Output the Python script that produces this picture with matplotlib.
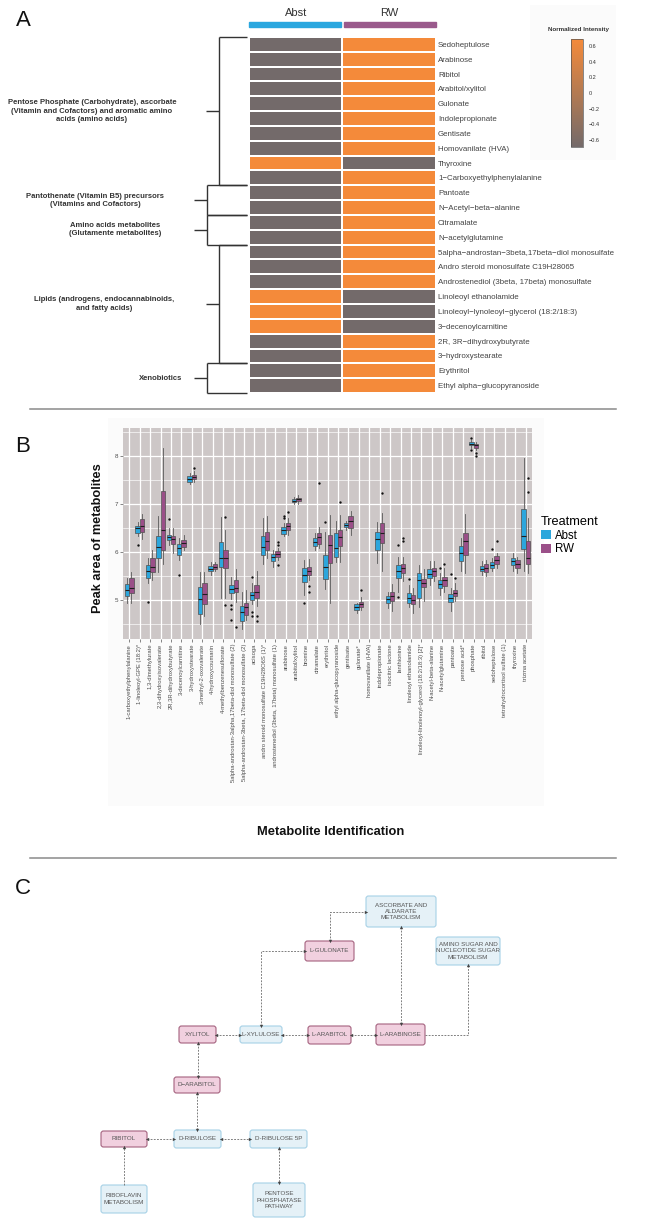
import numpy as np
import matplotlib.pyplot as plt
from matplotlib.patches import Rectangle, FancyBboxPatch, Patch
from matplotlib.colors import LinearSegmentedColormap

plt.rcParams['font.family'] = ['Liberation Sans', 'DejaVu Sans']

# ---------------- panel A data ----------------
metabolites = ["Sedoheptulose", "Arabinose", "Ribitol", "Arabitol/xylitol", "Gulonate",
               "Indolepropionate", "Gentisate", "Homovanilate (HVA)", "Thyroxine",
               "1\u2212Carboxyethylphenylalanine", "Pantoate", "N\u2212Acetyl\u2212beta\u2212alanine",
               "Citramalate", "N\u2212acetylglutamine",
               "5alpha\u2212androstan\u22123beta,17beta\u2212diol monosulfate",
               "Andro steroid monosulfate C19H28065",
               "Androstenediol (3beta, 17beta) monosulfate", "Linoleoyl ethanolamide",
               "Linoleoyl\u2212lynoleoyl\u2212glycerol (18:2/18:3)", "3\u2212decenoylcarnitine",
               "2R, 3R\u2212dihydroxybutyrate", "3\u2212hydroxystearate", "Erythritol",
               "Ethyl alpha\u2212glucopyranoside"]
abst_z = [-0.71, -0.71, -0.71, -0.71, -0.71, -0.71, -0.71, -0.71, 0.71, -0.71,
          -0.71, -0.71, -0.71, -0.71, -0.71, -0.71, -0.71, 0.71, 0.71, 0.71,
          -0.71, -0.71, -0.71, -0.71]
rw_z = [-v for v in abst_z]
group_names = ["Pentose Phosphate (Carbohydrate), ascorbate\n(Vitamin and Cofactors) and aromatic amino\nacids (amino acids)",
               "Pantothenate (Vitamin B5) precursors\n(Vitamins and Cofactors)",
               "Amino acids metabolites\n(Glutamente metabolites)",
               "Lipids (androgens, endocannabinoids,\nand fatty acids)",
               "Xenobiotics"]
group_start = [0, 10, 12, 14, 22]
group_end = [10, 12, 14, 22, 24]
group_level = [1, 2, 2, 1, 2]
cbar_ticks = [0.6, 0.4, 0.2, 0, -0.2, -0.4, -0.6]
cbar_labels = ["0.6", "0.4", "0.2", "0", "\u22120.2", "\u22120.4", "\u22120.6"]

# ---------------- panel B data ----------------
bp_labels = ["1-carboxyethylphenylalanine", "1-linoleoyl-GPE (18:2)*", "1,3-dimethylurate",
             "2,3-dihydroxyisovalerate", "2R,3R-dihydroxybutyrate", "3-decenoylcarnitine",
             "3-hydroxystearate", "3-methyl-2-oxovalerate", "4-hydroxycoumarin",
             "4-methylbenzenesulfonate", "5alpha-androstan-3alpha,17beta-diol monosulfate (2)",
             "5alpha-androstan-3beta, 17beta-diol monosulfate (2)", "acisoga",
             "andro steroid monosulfate C19H28O6S (1)*",
             "androstenediol (3beta, 17beta) monosulfate (1)", "arabinose", "arabitol/xylitol",
             "bromine", "citramalate", "erythritol", "ethyl alpha-glucopyranoside", "gentisate",
             "gulonate*", "homovanillate (HVA)", "indolepropionate", "isocitric lactone",
             "lanthionine", "linoleoyl ethanolamide",
             "linoleoyl-linolenoyl-glycerol (18:2/18:3) [2]*", "N-acetyl-beta-alanine",
             "N-acetylglutamine", "pantoate", "pentose acid*", "phosphate", "ribitol",
             "sedoheptulose", "tetrahydrocortisol sulfate (1)", "thyroxine", "trizma acetate"]

abst_lo = [4.94, 6.32, 5.35, 5.57, 6.15, 5.83, 7.42, 4.50, 5.52, 5.03, 5.02, 4.38, 4.90,
           5.75, 5.69, 6.32, 6.99, 5.10, 6.04, 5.22, 5.79, 6.46, 4.73, None, 5.76, 4.83,
           5.17, 4.84, 4.84, 5.31, 5.10, 4.77, 5.59, 8.16, 5.52, 5.59, None, 5.59, 5.59]
abst_q1 = [5.08, 6.40, 5.45, 5.87, 6.24, 5.94, 7.46, 4.71, 5.59, 5.69, 5.14, 4.55, 5.00,
           5.94, 5.80, 6.38, 7.03, 5.36, 6.11, 5.43, 5.90, 6.51, 4.79, None, 6.04, 4.93,
           5.45, 4.93, 5.04, 5.45, 5.24, 4.95, 5.80, 8.22, 5.59, 5.66, None, 5.72, 6.06]
abst_med = [5.21, 6.49, 5.59, 6.10, 6.30, 6.08, 7.51, 5.02, 5.65, 5.87, 5.22, 4.74, 5.10,
            6.10, 5.89, 6.45, 7.06, 5.51, 6.21, 5.69, 6.08, 6.56, 4.85, None, 6.27, 5.02,
            5.60, 5.03, 5.40, 5.54, 5.33, 5.03, 5.97, 8.25, 5.65, 5.73, None, 5.80, 6.33]
abst_q3 = [5.33, 6.54, 5.73, 6.32, 6.34, 6.17, 7.58, 5.26, 5.71, 6.21, 5.31, 4.86, 5.17,
           6.33, 5.95, 6.51, 7.10, 5.66, 6.28, 5.94, 6.39, 6.60, 4.90, None, 6.42, 5.07,
           5.73, 5.14, 5.56, 5.63, 5.42, 5.12, 6.11, 8.28, 5.70, 5.78, None, 5.87, 6.90]
abst_hi = [5.46, 6.63, 5.87, 6.74, 6.49, 6.28, 7.64, 5.57, 5.79, 6.72, 5.48, 5.15, 5.35,
           6.70, 6.04, 6.60, 7.14, 5.83, 6.39, 6.42, 6.64, 6.65, 4.94, None, 6.63, 5.17,
           5.90, 5.31, 5.73, 5.80, 5.56, 5.24, 6.28, 8.33, 5.81, 5.87, None, 5.97, 7.95]
abst_out = [[], [6.15], [4.96], [], [6.69], [5.52], [], [], [], [], [4.88, 4.80, 4.58], [],
            [5.47, 4.74, 4.66], [], [], [6.74, 6.70], [], [4.94], [], [6.61], [], [], [],
            None, [], [], [6.15, 5.05], [5.44], [], [], [5.67], [5.53], [], [8.38, 8.12],
            [], [6.06], None, [], []]

rw_lo = [4.94, 6.26, 5.42, 5.75, 5.97, 6.04, 7.46, 4.65, 5.59, 5.04, 4.96, 4.58, 4.86,
         5.87, 5.83, 6.35, 6.99, 5.42, 6.08, 4.94, 5.79, 6.35, 4.79, None, 5.59, 4.76,
         5.38, 4.72, 4.97, 5.38, 5.17, 4.97, 5.56, 8.13, 5.49, 5.66, None, 5.56, 5.56]
rw_q1 = [5.13, 6.42, 5.58, 6.03, 6.17, 6.10, 7.51, 4.92, 5.63, 5.66, 5.15, 4.69, 5.03,
         6.04, 5.90, 6.46, 7.05, 5.52, 6.17, 5.76, 6.11, 6.49, 4.85, None, 6.18, 4.97,
         5.56, 4.90, 5.26, 5.49, 5.28, 5.07, 5.94, 8.17, 5.58, 5.74, None, 5.66, 5.74]
rw_med = [5.25, 6.53, 5.69, 6.46, 6.27, 6.19, 7.56, 5.12, 5.68, 5.86, 5.24, 4.84, 5.17,
          6.23, 5.95, 6.53, 7.09, 5.60, 6.30, 6.15, 6.30, 6.65, 4.92, None, 6.39, 5.07,
          5.66, 5.00, 5.35, 5.59, 5.40, 5.14, 6.22, 8.22, 5.67, 5.83, None, 5.75, 5.87]
rw_q3 = [5.46, 6.68, 5.87, 7.26, 6.32, 6.25, 7.60, 5.35, 5.74, 6.04, 5.40, 4.93, 5.31,
         6.42, 6.01, 6.60, 7.13, 5.69, 6.39, 6.35, 6.46, 6.74, 4.96, None, 6.60, 5.17,
         5.74, 5.09, 5.44, 5.67, 5.47, 5.21, 6.39, 8.25, 5.74, 5.92, None, 5.83, 6.23]
rw_hi = [5.58, 6.78, 6.04, 8.16, 6.49, 6.35, 7.68, 5.58, 5.79, 6.46, 5.65, 5.21, 5.59,
         6.74, 6.07, 6.70, 7.19, 5.85, 6.51, 6.77, 6.77, 6.85, 5.05, None, 6.81, 5.33,
         5.90, 5.24, 5.63, 5.80, 5.66, 5.35, 6.78, 8.29, 5.83, 5.97, None, 5.90, 6.70]
rw_out = [[], [], [], [], [], [], [7.74], [], [], [6.73, 4.88], [4.44], [], [4.66, 4.56],
          [], [6.21, 6.13, 5.73], [6.82], [], [5.28, 5.17], [7.43], [], [7.03], [], [5.20],
          None, [7.22], [], [6.29, 6.22], [], [], [], [5.74], [5.45], [], [8.06, 8.00], [],
          [6.22], None, [], [7.53, 7.24]]

# ---------------- panel C data ----------------
c_nodes = ["ASCORBATE AND\nALDARATE\nMETABOLISM", "L-GULONATE",
           "AMINO SUGAR AND\nNUCLEOTIDE SUGAR\nMETABOLISM", "XYLITOL", "L-XYLULOSE",
           "L-ARABITOL", "L-ARABINOSE", "D\u2212ARABITOL", "RIBITOL", "D-RIBULOSE",
           "D-RIBULOSE 5P", "RIBOFLAVIN\nMETABOLISM", "PENTOSE\nPHOSPHATASE\nPATHWAY"]
c_kind = ["path", "met", "path", "met", "path", "met", "met", "met", "met", "path", "path",
          "path", "path"]
# (from, to, route, (head at start, head at end))
c_edges = [(1, 0, "vh", (1, 1)), (4, 1, "vh", (1, 1)), (0, 6, "v", (1, 1)),
           (6, 2, "hv", (0, 1)), (3, 4, "h", (1, 1)), (4, 5, "h", (1, 1)), (5, 6, "h", (1, 1)),
           (3, 7, "v", (1, 1)), (7, 9, "v", (1, 1)), (8, 9, "h", (1, 1)), (9, 10, "h", (1, 1)),
           (11, 8, "v", (0, 1)), (10, 12, "v", (1, 1))]

# ---------------- layout ----------------
W, H = 662, 1224
fig = plt.figure(figsize=(W / 100, H / 100), dpi=100)


def add_ax(x0, y0, x1, y1, **kw):
    return fig.add_axes([x0 / W, 1 - y1 / H, (x1 - x0) / W, (y1 - y0) / H], **kw)


ov = add_ax(0, 0, W, H, zorder=-5)
ov.set_xlim(0, W)
ov.set_ylim(H, 0)
ov.axis("off")

# panel letters and separators
for letter, yy in [("A", 20), ("B", 446), ("C", 888)]:
    ov.text(23, yy, letter, fontsize=16, ha="center", va="center", color="#111")
for yy in [409, 858]:
    ov.plot([30, 616], [yy, yy], color="#8a8a8a", lw=1.1)

# ---------------- panel A ----------------
ov.add_patch(Rectangle((530, 5), 86, 155, fc="#fbfbfb", ec="none"))
cmap = LinearSegmentedColormap.from_list("grey_orange", ["#736a6a", "#f48a3a"])
ax_h = add_ax(249, 37, 436, 393)
Z = np.column_stack([abst_z, rw_z])
mesh = ax_h.pcolormesh(np.arange(3), np.arange(len(metabolites) + 1), Z, cmap=cmap,
                       vmin=-0.69, vmax=0.69, edgecolors="white", linewidth=1.2)
ax_h.set_xlim(0, 2)
ax_h.set_ylim(len(metabolites), 0)
ax_h.yaxis.tick_right()
ax_h.set_yticks(np.arange(len(metabolites)) + 0.5)
ax_h.set_yticklabels(metabolites, fontsize=5.7, color="#444444")
ax_h.tick_params(axis="y", length=0, pad=1.5)
ax_h.set_xticks([])
for s in ax_h.spines.values():
    s.set_visible(False)
for i, (name, col) in enumerate([("Abst", "#2aa7df"), ("RW", "#9a5a8c")]):
    ax_h.add_patch(Rectangle((i + 0.012 * (i > 0), -1.01), 0.988, 0.34, color=col,
                             clip_on=False))
    ax_h.text(i + 0.5, -1.63, name, ha="center", va="center", fontsize=8, color="#333333")

# dendrogram-like brackets
ax_d = add_ax(180, 37, 249, 393)
ax_d.set_xlim(180, 249)
ax_d.set_ylim(len(metabolites), 0)
ax_d.axis("off")
level_x = {1: 219, 2: 207}
label_cx = [92, 95, 115, 104, 161]
for name, s, e, lev, cx in zip(group_names, group_start, group_end, group_level, label_cx):
    xv = level_x[lev]
    m = (s + e) / 2
    kw = dict(color="#333333", lw=1.0, clip_on=False, solid_capstyle="butt")
    ax_d.plot([xv, xv], [s, e], **kw)
    ax_d.plot([xv, 247], [s, s], **kw)
    ax_d.plot([xv, 247], [e, e], **kw)
    ax_d.plot([xv - 13, xv], [m, m], **kw)
    ax_d.text(cx, m, name, ha="center", va="center", fontsize=5.5, fontweight="bold",
              color="#333333", linespacing=1.25, clip_on=False)

cax = add_ax(571, 39, 583, 147)
cb = fig.colorbar(mesh, cax=cax, ticks=cbar_ticks)
cb.ax.set_yticklabels(cbar_labels)
cb.ax.tick_params(labelsize=4, length=0, pad=4, colors="#333333")
cb.outline.set_linewidth(0.5)
cb.outline.set_edgecolor("#555555")
ov.text(578, 29, "Normalized Intensity", fontsize=4.5, fontweight="bold", ha="center",
        va="center", color="#333333")

# ---------------- panel B ----------------
ov.add_patch(Rectangle((108, 418), 436, 388, fc="#fbfbfb", ec="none"))
ax_b = add_ax(123, 428, 532, 639)
ax_b.set_facecolor("#cdc7c7")
n = len(bp_labels)


def box_stats(lo, q1, med, q3, hi, out):
    st, pos = [], []
    for i in range(len(med)):
        if med[i] is None:
            continue
        st.append(dict(whislo=lo[i], q1=q1[i], med=med[i], q3=q3[i], whishi=hi[i],
                       fliers=np.array(out[i])))
        pos.append(i + 1)
    return st, np.array(pos, dtype=float)


groups = [("Abst", "#2ca6dc", box_stats(abst_lo, abst_q1, abst_med, abst_q3, abst_hi, abst_out), -0.21),
          ("RW", "#9a4f88", box_stats(rw_lo, rw_q1, rw_med, rw_q3, rw_hi, rw_out), 0.21)]
for name, col, (st, pos), off in groups:
    ax_b.bxp(st, positions=pos + off, widths=0.42, patch_artist=True, showcaps=False,
             manage_ticks=False, zorder=3,
             boxprops=dict(facecolor=col, edgecolor="#4f4f4f", linewidth=0.5),
             whiskerprops=dict(color="#5a5a5a", linewidth=0.6),
             medianprops=dict(color="#1e1e1e", linewidth=0.8),
             flierprops=dict(marker="o", markersize=1.7, markerfacecolor="#111111",
                             markeredgecolor="none"))

vals = [v for arr in (abst_lo, abst_hi, rw_lo, rw_hi) for v in arr if v is not None]
vals += [v for arr in (abst_out, rw_out) for o in arr if o for v in o]
lo_v, hi_v = min(vals), max(vals)
pad = 0.05 * (hi_v - lo_v)
ax_b.set_ylim(lo_v - pad, hi_v + pad)
ax_b.set_xlim(0.4, n + 0.6)
ax_b.set_yticks([5, 6, 7, 8])
ax_b.set_yticks(np.arange(4.5, 9, 1.0), minor=True)
ax_b.set_xticks(np.arange(1, n + 1))
ax_b.set_xticklabels(bp_labels, rotation=90, fontsize=4.2, color="#4d4d4d")
ax_b.tick_params(axis="both", length=2, width=0.5, color="#555555", pad=1.5)
ax_b.tick_params(axis="y", labelsize=4.5, labelcolor="#4d4d4d")
ax_b.tick_params(axis="y", which="minor", length=0)
ax_b.grid(True, which="major", color="white", lw=0.9)
ax_b.grid(True, which="minor", axis="y", color="white", lw=0.45)
ax_b.set_axisbelow(True)
for s in ax_b.spines.values():
    s.set_visible(False)
ax_b.set_ylabel("Peak area of metabolites", fontsize=9.2, fontweight="bold", color="#111")
ax_b.yaxis.set_label_coords(-0.046, 0.48)
ov.text(331, 832, "Metabolite Identification", fontsize=9.3, fontweight="bold",
        ha="center", va="center", color="#111")
handles = [Patch(facecolor=c, edgecolor="none") for _, c, _, _ in groups]
leg = ax_b.legend(handles, [g[0] for g in groups], title="Treatment", loc="center left",
                  bbox_to_anchor=(1.008, 0.49), frameon=False, fontsize=8.3,
                  title_fontsize=9.2, handlelength=0.85, handleheight=0.85,
                  handletextpad=0.4, borderpad=0, labelspacing=0.15, alignment="left")

# ---------------- panel C ----------------
c_boxes = [(366, 896, 436, 927), (305, 941, 354, 961), (436, 937, 500, 965),
           (179, 1026, 216, 1043), (240, 1026, 282, 1043), (308, 1026, 351, 1044),
           (376, 1024, 425, 1045), (174, 1077, 220, 1093), (101, 1131, 147, 1147),
           (174, 1130, 221, 1148), (250, 1130, 307, 1148), (101, 1185, 147, 1213),
           (253, 1183, 305, 1217)]
styles = {"met": ("#f1d0df", "#a5627f"), "path": ("#e5f1f7", "#a6d1e6")}
for name, kind, (x0, y0, x1, y1) in zip(c_nodes, c_kind, c_boxes):
    fc, ec = styles[kind]
    ov.add_patch(FancyBboxPatch((x0, y0), x1 - x0, y1 - y0,
                                boxstyle="round,pad=0,rounding_size=2.5", fc=fc, ec=ec,
                                lw=0.8))
    ov.text((x0 + x1) / 2, (y0 + y1) / 2, name, ha="center", va="center", fontsize=4.5,
            color="#555555", linespacing=1.3)


def center(b):
    return (b[0] + b[2]) / 2, (b[1] + b[3]) / 2


def route(a, b, kind):
    ax0, ay0, ax1, ay1 = a
    bx0, by0, bx1, by1 = b
    acx, acy = center(a)
    bcx, bcy = center(b)
    if kind == "h":
        return [(ax1, acy), (bx0, acy)] if bcx > acx else [(ax0, acy), (bx1, acy)]
    if kind == "v":
        return [(acx, ay1), (acx, by0)] if bcy > acy else [(acx, ay0), (acx, by1)]
    if kind == "vh":
        ys = ay0 if bcy < acy else ay1
        xe = bx0 if bcx > acx else bx1
        return [(acx, ys), (acx, bcy), (xe, bcy)]
    xs = ax1 if bcx > acx else ax0
    ye = by1 if bcy < acy else by0
    return [(xs, acy), (bcx, acy), (bcx, ye)]


def head(p, q):
    dx, dy = q[0] - p[0], q[1] - p[1]
    if abs(dx) > abs(dy):
        return ">" if dx > 0 else "<"
    return "v" if dy > 0 else "^"


for a, b, kind, (hs, he) in c_edges:
    pts = route(c_boxes[a], c_boxes[b], kind)
    xs, ys = zip(*pts)
    ov.plot(xs, ys, color="#6a6a6a", lw=0.6, ls=(0, (2.2, 1.6)))
    if he:
        ov.plot(*pts[-1], marker=head(pts[-2], pts[-1]), ms=2.4, color="#444444", mew=0)
    if hs:
        ov.plot(*pts[0], marker=head(pts[1], pts[0]), ms=2.4, color="#444444", mew=0)

fig.savefig("out.png", dpi=100)
